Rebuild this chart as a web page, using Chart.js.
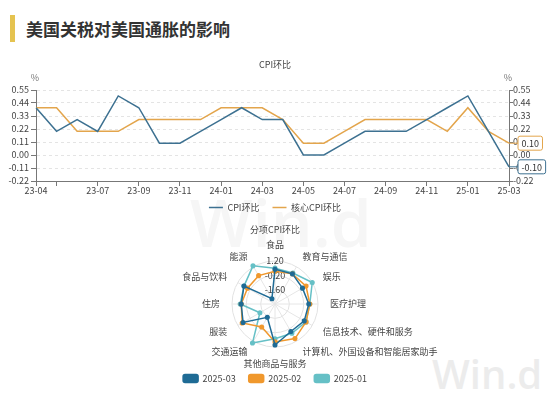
<!DOCTYPE html>
<html>
<head>
<meta charset="utf-8">
<script src="https://cdn.jsdelivr.net/npm/chart.js@4.4.1/dist/chart.umd.min.js"></script>
<style>
  body { margin: 0; background: #fff; width: 550px; height: 399px; overflow: hidden; position: relative; font-family: "Noto Sans CJK SC", sans-serif; }
  .bar { position: absolute; left: 10px; top: 15px; width: 5px; height: 27px; background: #e5c350; }
  .ttl { position: absolute; left: 26px; top: 16px; font-size: 17px; font-weight: bold; color: #333; line-height: 26px; }
  .wm { position: absolute; font-family: "Open Sans", sans-serif; font-weight: 600; line-height: 1; white-space: nowrap; }
  canvas { position: absolute; left: 0; }
  #lineChart { top: 50px; }
  #radarChart { top: 220px; }
</style>
</head>
<body>
<div class="bar"></div>
<div class="ttl">美国关税对美国通胀的影响</div>
<div class="wm" style="left:190px;top:188px;font-size:66px;color:#f6f6f6;">Win.d</div>
<div class="wm" style="left:432px;top:354px;font-size:40px;color:#ececec;">Win.d</div>
<canvas id="lineChart" width="550" height="180"></canvas>
<canvas id="radarChart" width="550" height="173"></canvas>
<script>
// 月度CPI环比
const months = ['23-04','23-05','23-06','23-07','23-08','23-09','23-10','23-11','23-12','24-01','24-02','24-03',
                '24-04','24-05','24-06','24-07','24-08','24-09','24-10','24-11','24-12','25-01','25-02','25-03'];
const cpiMoM  = [0.4,0.2,0.3,0.2,0.5,0.4,0.1,0.1,0.2,0.3,0.4,0.3,0.3,0.0,0.0,0.1,0.2,0.2,0.2,0.3,0.4,0.5,0.2,-0.1];
const coreMoM = [0.4,0.4,0.2,0.2,0.2,0.3,0.3,0.3,0.3,0.4,0.4,0.4,0.3,0.1,0.1,0.2,0.3,0.3,0.3,0.3,0.2,0.4,0.2,0.1];
const shownMonths = ['23-04','23-07','23-09','23-11','24-01','24-03','24-05','24-07','24-09','24-11','25-01','25-03'];
const tickMonths = ['23-05'].concat(shownMonths);
const axisMin = -0.22, axisMax = 0.55, axisStep = 0.11;

// 分项CPI环比
const items = ['食品','教育与通信','娱乐','医疗护理','信息技术、硬件和服务','计算机、外国设备和智能居家助手',
               '其他商品与服务','交通运输','服装','住房','食品与饮料','能源'];
const mar25 = [0.4, 0.4, 0.1, 0.3, 0.3, 0.1, 1.0, -1.5, 0.6, 0.3, 0.5, -2.4];
const feb25 = [0.2, 0.4, 0.5, 0.4, 0.5, 0.9, 0.7, -0.4, 0.7, 0.3, 0.1, 0.2];
const jan25 = [0.5, 0.5, 1.2, 0.4, 0.5, 0.3, 0.4, 1.4, -1.3, 0.4, 0.5, 1.3];
const radarMin = -3.0, radarMax = 1.2, radarStep = 1.4;

const FONT = '"Noto Sans CJK SC", sans-serif';
Chart.defaults.font.family = FONT;
Chart.defaults.font.size = 9;
Chart.defaults.color = '#444';

// % 单位
const unitLabel = {
  id: 'unitLabel',
  afterLayout(chart) {
    // legend sits a little closer to the axis labels (canvas coords)
    const lg = chart.legend;
    lg.top = 140;
    lg.bottom = 140 + lg.height;
  },
  afterDraw(chart) {
    const { ctx, chartArea } = chart;
    ctx.save();
    ctx.font = '9px ' + FONT;
    ctx.fillStyle = '#777';
    ctx.textAlign = 'center';
    ctx.textBaseline = 'middle';
    ctx.fillText('%', chartArea.left - 1, chartArea.top - 12);
    ctx.fillText('%', chartArea.right - 1, chartArea.top - 12);
    ctx.restore();
  }
};

// 末值标签
const lastValue = {
  id: 'lastValue',
  afterDatasetsDraw(chart) {
    const ctx = chart.ctx;
    chart.data.datasets.forEach((ds, i) => {
      const meta = chart.getDatasetMeta(i);
      const pt = meta.data[meta.data.length - 1];
      const txt = ds.data[ds.data.length - 1].toFixed(2);
      ctx.save();
      ctx.font = '9px ' + FONT;
      const w = ctx.measureText(txt).width + 7, h = 14;
      const x = chart.chartArea.right + 9, y = pt.y;
      ctx.strokeStyle = ds.borderColor;
      ctx.lineWidth = 1;
      ctx.beginPath();
      ctx.moveTo(pt.x, pt.y);
      ctx.lineTo(x, y);
      ctx.stroke();
      ctx.beginPath();
      ctx.roundRect(x, y - h / 2, w, h, 2);
      ctx.fillStyle = '#fff';
      ctx.fill();
      ctx.stroke();
      ctx.fillStyle = '#333';
      ctx.textAlign = 'left';
      ctx.textBaseline = 'middle';
      ctx.fillText(txt, x + 3.5, y + 0.5);
      ctx.restore();
    });
  }
};

const yAxis = (pos, width, tickLen, pad, onArea) => ({
  position: pos,
  min: axisMin,
  max: axisMax,
  ticks: { stepSize: axisStep, autoSkip: false, padding: pad, color: '#444', callback: v => v.toFixed(2) },
  grid: { drawOnChartArea: onArea, color: '#e4e4e4', tickColor: '#777', tickLength: tickLen },
  border: { color: '#777', dash: [3, 3] },
  afterFit(s) { s.width = width; }
});

new Chart(document.getElementById('lineChart'), {
  type: 'line',
  data: {
    labels: months,
    datasets: [
      { label: 'CPI环比', data: cpiMoM, borderColor: '#3d7191', backgroundColor: '#3d7191', borderWidth: 1.5, pointRadius: 0, tension: 0 },
      { label: '核心CPI环比', data: coreMoM, borderColor: '#e3a54c', backgroundColor: '#e3a54c', borderWidth: 1.5, pointRadius: 0, tension: 0 }
    ]
  },
  options: {
    responsive: false,
    animation: false,
    plugins: {
      title: { display: true, text: 'CPI环比', color: '#444', font: { size: 9, weight: 'normal' }, padding: { top: 9.6, bottom: 19.6 } },
      legend: {
        position: 'bottom',
        labels: { usePointStyle: true, pointStyle: 'line', pointStyleWidth: 14, padding: 13, color: '#444', font: { size: 9 } }
      },
      tooltip: { enabled: false }
    },
    scales: {
      x: {
        ticks: {
          autoSkip: false, maxRotation: 0, padding: -1, color: '#444',
          callback: (v, i) => shownMonths.includes(months[i]) ? months[i] : ''
        },
        grid: {
          drawOnChartArea: false, tickLength: 5,
          color: c => tickMonths.includes(months[c.index]) ? '#777' : 'rgba(0,0,0,0)'
        },
        border: { color: '#777' },
        afterFit(s) { s.height = 17; }
      },
      y: yAxis('left', 36, 5, 2, true),
      y2: yAxis('right', 41, 4, 0, false)
    }
  },
  plugins: [unitLabel, lastValue]
});

// 维度名称
const spokeLabels = {
  id: 'spokeLabels',
  afterDraw(chart) {
    const s = chart.scales.r;
    const ctx = chart.ctx;
    ctx.save();
    ctx.font = '9px ' + FONT;
    ctx.fillStyle = '#444';
    chart.data.labels.forEach((t, i) => {
      const p = s.getPointPosition(i, s.drawingArea + 12);
      const dx = p.x - s.xCenter, dy = p.y - s.yCenter;
      const mid = Math.abs(dx) < 1;
      ctx.textAlign = mid ? 'center' : (dx > 0 ? 'left' : 'right');
      ctx.textBaseline = mid ? (dy < 0 ? 'bottom' : 'top') : 'middle';
      ctx.fillText(t, p.x, p.y);
    });
    ctx.restore();
  }
};

const radarSet = (label, data, color) => ({
  label, data,
  borderColor: color, backgroundColor: color,
  pointBackgroundColor: color, pointBorderColor: color,
  borderWidth: 1.5, pointRadius: 1.8, fill: false
});

new Chart(document.getElementById('radarChart'), {
  type: 'radar',
  data: {
    labels: items,
    datasets: [
      radarSet('2025-03', mar25, '#1f6b95'),
      radarSet('2025-02', feb25, '#f0982d'),
      radarSet('2025-01', jan25, '#66c0c6')
    ]
  },
  options: {
    responsive: false,
    animation: false,
    plugins: {
      title: { display: true, text: '分项CPI环比', color: '#444', font: { size: 9, weight: 'normal' }, padding: { top: 4.6, bottom: 18.6 } },
      legend: {
        position: 'bottom',
        title: { display: true, text: '', font: { size: 5 }, padding: 0.5 },
        labels: { boxWidth: 15, boxHeight: 8, useBorderRadius: true, borderRadius: 2, padding: 13, color: '#444', font: { size: 9 } }
      },
      tooltip: { enabled: false }
    },
    scales: {
      r: {
        min: radarMin,
        max: radarMax,
        ticks: {
          stepSize: radarStep, color: '#444', showLabelBackdrop: false,
          callback: v => v <= radarMin + 0.01 ? '' : v.toFixed(2)
        },
        grid: { circular: true, color: '#e2e2e2' },
        angleLines: { color: '#e6e6e6' },
        pointLabels: { display: false }
      }
    }
  },
  plugins: [spokeLabels]
});
</script>
</body>
</html>
